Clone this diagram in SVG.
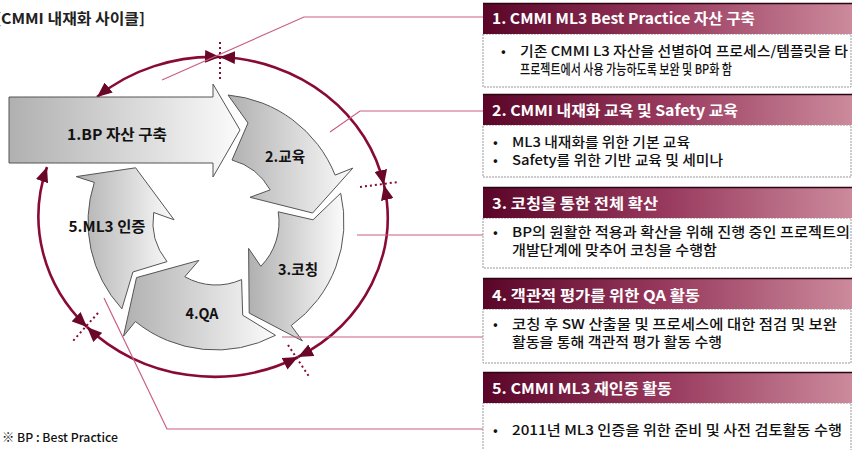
<svg xmlns="http://www.w3.org/2000/svg" width="852" height="450" viewBox="0 0 852 450">
<style>
.lbl{font-family:"Noto Sans CJK KR","Liberation Sans",sans-serif;font-size:15px;font-weight:bold;fill:#111;text-anchor:middle}
.hd{font-family:"Noto Sans CJK KR","Liberation Sans",sans-serif;font-size:15px;font-weight:bold;fill:#fff}
.bd{font-family:"Noto Sans CJK KR","Liberation Sans",sans-serif;font-size:13.5px;font-weight:500;fill:#111}
.arr{stroke:#555;stroke-width:1;fill:url(#gArr)}
.hbox{fill:url(#gHead)}
.hline{stroke:#2a0512;stroke-width:1.5}
.bbox{fill:#fff;stroke:#999;stroke-width:1;stroke-dasharray:2 1}
.cyc{fill:none;stroke:#8a0a36;stroke-width:2.6;marker-start:url(#mk);marker-end:url(#mk)}
.sep{fill:none;stroke:#8a0a36;stroke-width:2;stroke-dasharray:2 3}
.lead{fill:none;stroke:#c8607e;stroke-width:1.2}
</style>
<defs>
<linearGradient id="gArr" x1="0" y1="0" x2="1" y2="0">
<stop offset="0" stop-color="#b0b0b0"/>
<stop offset="1" stop-color="#fbfbfb"/>
</linearGradient>
<linearGradient id="gHead" x1="0" y1="0" x2="1" y2="0">
<stop offset="0" stop-color="#5a0528"/>
<stop offset="0.5" stop-color="#983a5e"/>
<stop offset="1" stop-color="#cc8a9c"/>
</linearGradient>
<marker id="mk" viewBox="0 0 14 12" refX="14" refY="6" markerWidth="15" markerHeight="13" markerUnits="userSpaceOnUse" orient="auto-start-reverse">
<path d="M0,0 L14,6 L0,12 z" fill="#6a0628"/>
</marker>
</defs>
<rect width="852" height="450" fill="#fff"/>

<text x="-5" y="24" class="bd" style="font-size:15px;font-weight:bold;fill:#222" textLength="150" lengthAdjust="spacingAndGlyphs">[CMMI 내재화 사이클]</text>

<g id="cycle-arcs">
<path class="cyc" d="M97,97 A175 160 0 0 1 220,57"/>
<path class="cyc" d="M220,57 A175 160 0 0 1 384,185"/>
<path class="cyc" d="M384,185 A175 160 0 0 1 298,357"/>
<path class="cyc" d="M298,357 A175 160 0 0 1 87,327"/>
<path class="cyc" d="M87,327 A175 160 0 0 1 47,167"/>
<path class="sep" d="M220,42 L220,80"/>
<path class="sep" d="M360,187 L398,182"/>
<path class="sep" d="M288,345 L310,378"/>
<path class="sep" d="M98,313 L72,342"/>
</g>

<g id="step1">
<polygon class="arr" points="9,97 213,97 213,84 240,130 213,177 213,163 9,163"/>
<text x="117" y="140" class="lbl" textLength="100" lengthAdjust="spacingAndGlyphs">1.BP 자산 구축</text>
</g>
<g id="step2">
<path class="arr" d="M228,95 A128 128 0 0 1 335.1,175.1 L352.8,168.1 L312.6,213 L250,197.3 L270.2,189.9 A63 63 0 0 0 232,160 L248,123 Z"/>
<text x="285" y="162" class="lbl" textLength="40" lengthAdjust="spacingAndGlyphs">2.교육</text>
</g>
<g id="step3">
<path class="arr" d="M340.7,193.2 A128 128 0 0 1 291.2,325.6 L302.4,340.9 L249.2,313.1 L248.6,248.4 L260.8,266.3 A63 63 0 0 0 278.2,211.8 L313,219.8 Z"/>
<text x="298" y="275" class="lbl" textLength="40" lengthAdjust="spacingAndGlyphs">3.코칭</text>
</g>
<g id="step4">
<path class="arr" d="M275.5,335.3 A128 128 0 0 1 135.4,321.5 L123.5,336.2 L136.5,277.6 L198.9,260.4 L184.8,276.7 A63 63 0 0 0 241.6,279.6 L242.7,315.2 Z"/>
<text x="202" y="319" class="lbl" textLength="33" lengthAdjust="spacingAndGlyphs">4.QA</text>
</g>
<g id="step5">
<path class="arr" d="M121.9,308.8 A128 128 0 0 1 94.3,182.4 L76.2,176.6 L135.6,167.8 L174.1,219.8 L153.7,212.5 A63 63 0 0 0 167,261.6 L132.9,272 Z"/>
<text x="107" y="232" class="lbl" textLength="77" lengthAdjust="spacingAndGlyphs">5.ML3 인증</text>
</g>

<g id="leaders">
<polyline class="lead" points="162,80 304,17 483,17"/>
<polyline class="lead" points="330,132 360,111 483,111"/>
<polyline class="lead" points="357,235 483,235"/>
<polyline class="lead" points="282,337 483,337"/>
<polyline class="lead" points="104,298 167,429 483,429"/>
</g>

<g id="panel1">
<rect class="bbox" x="483" y="34" width="368" height="53"/>
<rect class="hbox" x="483" y="3" width="369" height="31"/>
<line class="hline" x1="483" y1="3.5" x2="852" y2="3.5"/>
<text x="492" y="24" class="hd" textLength="263" lengthAdjust="spacingAndGlyphs">1. CMMI ML3 Best Practice 자산 구축</text>
<text x="501" y="56" class="bd">•</text>
<text x="520" y="56" class="bd" textLength="328" lengthAdjust="spacingAndGlyphs">기존 CMMI L3 자산을 선별하여 프로세스/템플릿을 타</text>
<text x="520" y="74" class="bd" textLength="212" lengthAdjust="spacingAndGlyphs">프로젝트에서 사용 가능하도록 보완 및 BP화 함</text>
</g>
<g id="panel2">
<rect class="bbox" x="483" y="125" width="368" height="52"/>
<rect class="hbox" x="483" y="94" width="369" height="31"/>
<line class="hline" x1="483" y1="94.5" x2="852" y2="94.5"/>
<text x="492" y="116" class="hd" textLength="246" lengthAdjust="spacingAndGlyphs">2. CMMI 내재화 교육 및 Safety 교육</text>
<text x="493" y="147" class="bd">•</text>
<text x="512" y="147" class="bd" textLength="178" lengthAdjust="spacingAndGlyphs">ML3 내재화를 위한 기본 교육</text>
<text x="493" y="165" class="bd">•</text>
<text x="512" y="165" class="bd" textLength="211" lengthAdjust="spacingAndGlyphs">Safety를 위한 기반 교육 및 세미나</text>
</g>
<g id="panel3">
<rect class="bbox" x="483" y="218" width="368" height="50"/>
<rect class="hbox" x="483" y="187" width="369" height="31"/>
<line class="hline" x1="483" y1="187.5" x2="852" y2="187.5"/>
<text x="492" y="209" class="hd" textLength="166" lengthAdjust="spacingAndGlyphs">3. 코칭을 통한 전체 확산</text>
<text x="493" y="237" class="bd">•</text>
<text x="512" y="237" class="bd" textLength="338" lengthAdjust="spacingAndGlyphs">BP의 원활한 적용과 확산을 위해 진행 중인 프로젝트의</text>
<text x="512" y="255" class="bd" textLength="205" lengthAdjust="spacingAndGlyphs">개발단계에 맞추어 코칭을 수행함</text>
</g>
<g id="panel4">
<rect class="bbox" x="483" y="309" width="368" height="54"/>
<rect class="hbox" x="483" y="278" width="369" height="31"/>
<line class="hline" x1="483" y1="278.5" x2="852" y2="278.5"/>
<text x="492" y="301" class="hd" textLength="208" lengthAdjust="spacingAndGlyphs">4. 객관적 평가를 위한 QA 활동</text>
<text x="493" y="329" class="bd">•</text>
<text x="512" y="329" class="bd" textLength="325" lengthAdjust="spacingAndGlyphs">코칭 후 SW 산출물 및 프로세스에 대한 점검 및 보완</text>
<text x="512" y="347" class="bd" textLength="210" lengthAdjust="spacingAndGlyphs">활동을 통해 객관적 평가 활동 수행</text>
</g>
<g id="panel5">
<rect class="bbox" x="483" y="403" width="368" height="60"/>
<rect class="hbox" x="483" y="372" width="369" height="31"/>
<line class="hline" x1="483" y1="372.5" x2="852" y2="372.5"/>
<text x="492" y="394" class="hd" textLength="180" lengthAdjust="spacingAndGlyphs">5. CMMI ML3 재인증 활동</text>
<text x="493" y="435" class="bd">•</text>
<text x="512" y="435" class="bd" textLength="330" lengthAdjust="spacingAndGlyphs">2011년 ML3 인증을 위한 준비 및 사전 검토활동 수행</text>
</g>

<text x="2" y="442" class="bd" style="font-size:12px" textLength="116" lengthAdjust="spacingAndGlyphs">※ BP : Best Practice</text>
</svg>
